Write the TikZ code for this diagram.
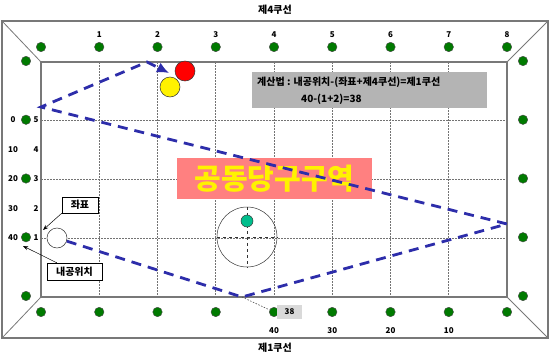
\documentclass[tikz,border=0pt]{standalone}
\usepackage{fontspec}
\setmainfont{Noto Sans CJK KR}
\usetikzlibrary{arrows.meta,calc}
\tikzset {>=Stealth}
\definecolor{rail}{RGB}{120,120,120}
\definecolor{diamondgreen}{RGB}{0,122,0}
\definecolor{shotblue}{RGB}{45,45,170}
\definecolor{calcgray}{RGB}{180,180,180}
\definecolor{zonepink}{RGB}{255,128,128}
\definecolor{objteal}{RGB}{0,190,140}
\tikzset{
  dot/.style={circle,fill=diamondgreen,draw=black!70,line width=.4pt,minimum size=9.5pt,inner sep=0pt},
  num/.style={font=\bfseries\fontsize{8}{8}\selectfont,inner sep=0pt},
  tag/.style={draw=black,fill=white,font=\bfseries\fontsize{10}{10}\selectfont,inner sep=0pt},
  shot/.style={shotblue,line width=2.8pt,dash pattern=on 10pt off 7pt},
  guide/.style={black!55,line width=.6pt,dash pattern=on 1.5pt off 1.5pt},
  ball/.style={circle,draw=black!80,line width=.5pt,inner sep=0pt}
}
\begin{document}
\begin{tikzpicture}[x=1pt,y=-1pt]
\useasboundingbox (0,0) rectangle (550,359);
\coordinate (O1) at (2,21);
\coordinate (O2) at (548,21);
\coordinate (O3) at (548,338);
\coordinate (O4) at (2,338);
\coordinate (I1) at (41,62);
\coordinate (I2) at (507,62);
\coordinate (I3) at (507,297);
\coordinate (I4) at (41,297);
\foreach \i in {1,...,7}
  \draw[guide] (41+58.25*\i,62) -- (41+58.25*\i,297);
\foreach \y in {120,179,238}
  \draw[guide] (41,\y) -- (507,\y);
\draw[rail,line width=1.5pt] (O1) rectangle (O3);
\draw[rail,line width=1.5pt] (I1) rectangle (I3);
\draw[rail,line width=.8pt] (O1) -- (I1) (O2) -- (I2) (O3) -- (I3) (O4) -- (I4);
\node[font=\bfseries\fontsize{10}{10}\selectfont] (cush4) at (275,10) {제4쿠선};
\node[font=\bfseries\fontsize{10}{10}\selectfont] (cush1) at (275,348) {제1쿠선};
\foreach \i in {0,...,8} {
  \node[dot] (top\i) at (41+58.25*\i,47) {};
  \node[dot] (bot\i) at (41+58.25*\i,312) {};
}
\foreach \i in {1,...,8}
  \node[num] (tn\i) at (41+58.25*\i,35) {\i};
\foreach \i/\v in {4/40,5/30,6/20,7/10}
  \node[num] (bn\i) at (41+58.25*\i,331) {\v};
\foreach \j in {0,...,4} {
  \node[dot] (left\j) at (26,61+58.75*\j) {};
  \node[dot] (right\j) at (523,61+58.75*\j) {};
}
\foreach \k/\a/\b in {0/0/5,1/10/4,2/20/3,3/30/2,4/40/1} {
  \node[num] (la\k) at (13,120+29.4*\k) {\a};
  \node[num] (lb\k) at (36,120+29.4*\k) {\b};
}
\node[fill=calcgray,minimum width=235pt,minimum height=36pt,inner sep=0pt] (calc) at (369.5,90) {};
\node[anchor=west,font=\bfseries\fontsize{10}{10}\selectfont,inner sep=0pt] (calcA) at (257,82) {계산법 : 내공위치-(좌표+제4쿠선)=제1쿠선};
\node[anchor=west,font=\bfseries\fontsize{10}{10}\selectfont,inner sep=0pt] (calcB) at (301,99) {40-(1+2)=38};
\node[fill=zonepink,minimum width=195pt,minimum height=41pt,inner sep=0pt,text=yellow,
  font=\bfseries\fontsize{29}{29}\selectfont] (zone) at (274.5,178.5) {공동당구구역};
\node[ball,minimum size=60pt] (target) at (247,237) {};
\draw[black!80,dashed,line width=.5pt] (target.north) -- (target.south) (target.west) -- (target.east);
\node[ball,fill=objteal,minimum size=12pt] (obj) at (247,221) {};
\node[ball,fill=red,minimum size=20pt] (red) at (185,71) {};
\node[ball,fill=yellow,minimum size=20pt] (yel) at (170,87) {};
\node[ball,fill=white,minimum size=20pt] (cue) at (57,238) {};
\coordinate (b1) at (242,297);
\coordinate (b2) at (507,224);
\coordinate (b3) at (41,107);
\coordinate (b4) at (147,62);
\coordinate (tip) at (169,73);
\node[fill=black!15,minimum width=25pt,minimum height=14pt,inner sep=0pt,
  font=\bfseries\fontsize{8}{8}\selectfont] (res) at (289.5,312) {38};
\draw[guide,black!70] (b1) -- (bot4);
\draw[shot,-{Latex[length=12pt,width=11pt]}] (cue) -- (b1) -- (b2) -- (b3) -- (b4) -- (tip);
\node[tag,minimum width=36pt,minimum height=16pt] (coord) at (80,205) {좌표};
\node[tag,minimum width=55pt,minimum height=17pt] (pos) at (74.5,271.5) {내공위치};
\coordinate (coordtip) at (43,230);
\coordinate (postip) at (23,246);
\draw[->,line width=.5pt] (coord.south west) -- (coordtip);
\draw[->,line width=.5pt] ([xshift=10pt]pos.north west) -- (postip);
\end{tikzpicture}
\end{document}
